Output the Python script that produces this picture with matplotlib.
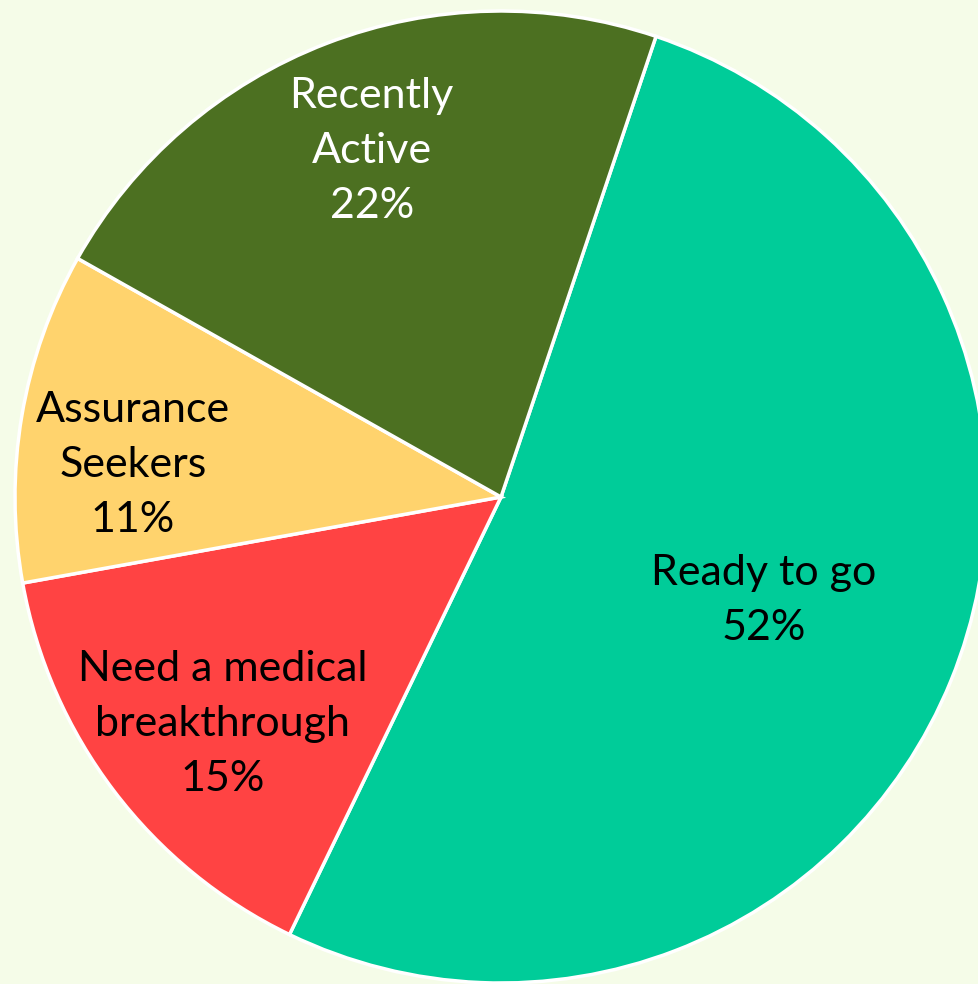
import numpy as np
import matplotlib
matplotlib.use('Agg')
from matplotlib import pyplot as plt

# slices, clockwise from the top
labels = ['Ready to go', 'Need a medical\nbreakthrough', 'Assurance\nSeekers', 'Recently\nActive']
shares = [52, 15, 11, 22]
colors = ['#00CC99', '#FF4343', '#FFD36D', '#4C7021']
text_colors = ['black', 'black', 'black', 'white']

# label placement: distance from centre (in radii) and angle nudge (deg)
label_dist = [0.58, 0.74, 0.76, 0.76]
label_nudge = [0.7, 2.0, 4.6, -0.5]

bg = '#F5FCE8'
plt.rcParams['font.family'] = ['Lato', 'DejaVu Sans']

fig = plt.figure(figsize=(9.79, 9.84), dpi=100, facecolor=bg)
# circle centre at (501, 497) px from top-left, radius 486 px
R, cx, cy = 486, 501, 497
ax = fig.add_axes([(cx - R) / 979, (984 - cy - R) / 984, 2 * R / 979, 2 * R / 984])
ax.set_facecolor(bg)

wedges, _ = ax.pie(shares, colors=colors, startangle=71.4, counterclock=False,
                   radius=1.0, wedgeprops=dict(edgecolor='white', linewidth=2.5))

for w, lab, pct, tc, d, nd in zip(wedges, labels, shares, text_colors, label_dist, label_nudge):
    ang = np.deg2rad((w.theta1 + w.theta2) / 2 + nd)
    ax.text(d * np.cos(ang), d * np.sin(ang), f'{lab}\n{pct}%', ha='center', va='center',
            color=tc, fontsize=31, linespacing=1.55)

ax.set_xlim(-1, 1)
ax.set_ylim(-1, 1)
ax.axis('off')

plt.savefig('out.png', dpi=100, facecolor=bg)
plt.close()
